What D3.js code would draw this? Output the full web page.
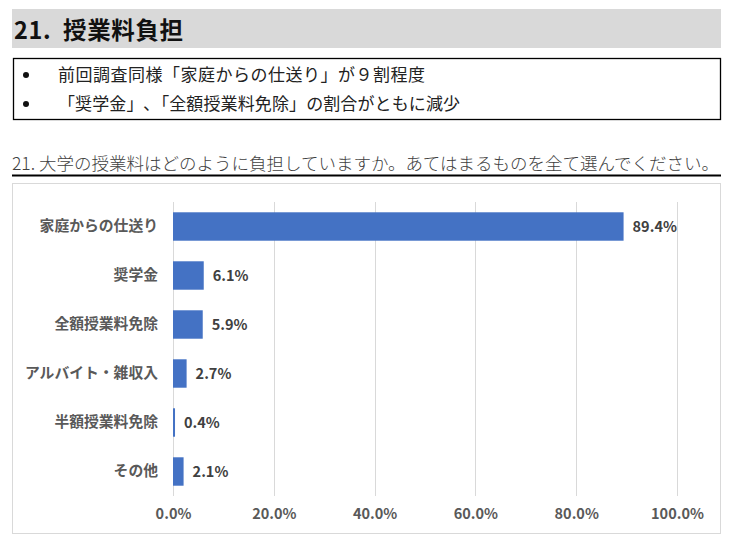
<!DOCTYPE html>
<html>
<head>
<meta charset="utf-8">
<script src="https://cdn.jsdelivr.net/npm/d3@7"></script>
<style>
  html, body { margin: 0; padding: 0; background: #ffffff; }
  svg { display: block; }
</style>
</head>
<body>
<div id="chart"></div>
<script>
const categories = ["家庭からの仕送り", "奨学金", "全額授業料免除", "アルバイト・雑収入", "半額授業料免除", "その他"];
const values = [89.4, 6.1, 5.9, 2.7, 0.4, 2.1];
const tickValues = [0, 20, 40, 60, 80, 100];
const titleText = "21.  授業料負担";
const bullets = ["前回調査同様「家庭からの仕送り」が９割程度", "「奨学金」､「全額授業料免除」の割合がともに減少"];
const questionText = "21. 大学の授業料はどのように負担していますか。あてはまるものを全て選んでください。";

const W = 740, H = 543;
const FONT = "'Noto Sans CJK JP', 'Noto Sans', sans-serif";
const svg = d3.select("#chart").append("svg").attr("width", W).attr("height", H);
svg.append("rect").attr("width", W).attr("height", H).attr("fill", "#fff");

// Header bar
svg.append("rect").attr("x", 12).attr("y", 9).attr("width", 709).attr("height", 39).attr("fill", "#d9d9d9");
svg.append("text").attr("x", 14).attr("y", 39).attr("font-family", FONT).attr("font-weight", 700)
  .attr("font-size", 23.5).attr("fill", "#111").attr("xml:space", "preserve")
  .attr("textLength", 169).attr("lengthAdjust", "spacing").text(titleText);

// Summary box
svg.append("rect").attr("x", 13.5).attr("y", 58.5).attr("width", 707).attr("height", 61)
  .attr("fill", "none").attr("stroke", "#000").attr("stroke-width", 1.3);
const bulletLens = [367, 402];
bullets.forEach((b, i) => {
  const y = 75 + i * 29;
  svg.append("circle").attr("cx", 26).attr("cy", y).attr("r", 3).attr("fill", "#111");
  svg.append("text").attr("x", 58).attr("y", y + 6).attr("font-family", FONT)
    .attr("font-size", 17).attr("fill", "#222")
    .attr("textLength", bulletLens[i]).attr("lengthAdjust", "spacing").text(b);
});

// Question line
svg.append("text").attr("x", 12).attr("y", 170).attr("font-family", FONT).attr("font-weight", 300)
  .attr("font-size", 17.5).attr("fill", "#404040").text(questionText);
svg.append("line").attr("x1", 12).attr("x2", 721).attr("y1", 175.5).attr("y2", 175.5)
  .attr("stroke", "#000").attr("stroke-width", 2);

// Chart frame
svg.append("rect").attr("x", 12.5).attr("y", 183.5).attr("width", 708).attr("height", 350)
  .attr("fill", "#fff").attr("stroke", "#d9d9d9").attr("stroke-width", 1);

const x = d3.scaleLinear().domain([0, 100]).range([173, 677]);
const y = d3.scaleBand().domain(categories).range([202, 496]).paddingInner(0.42).paddingOuter(0.21);

// Gridlines
svg.append("g").selectAll("line").data(tickValues).join("line")
  .attr("x1", d => Math.round(x(d)) + 0.5).attr("x2", d => Math.round(x(d)) + 0.5)
  .attr("y1", 202).attr("y2", 496).attr("stroke", "#d9d9d9").attr("stroke-width", 1);

// X axis labels
const xAxis = d3.axisBottom(x).tickValues(tickValues).tickSize(0).tickPadding(0)
  .tickFormat(d => d.toFixed(1) + "%");
const gx = svg.append("g").attr("transform", "translate(0,509)").call(xAxis);
gx.select(".domain").remove();
gx.selectAll("text").attr("font-family", FONT).attr("font-weight", 700).attr("font-size", 14.5)
  .attr("fill", "#595959").attr("dy", "0.71em");

// Y axis labels
const yAxis = d3.axisLeft(y).tickSize(0).tickPadding(0);
const gy = svg.append("g").attr("transform", "translate(158,0)").call(yAxis);
gy.select(".domain").remove();
gy.selectAll("text").attr("font-family", FONT).attr("font-weight", 700).attr("font-size", 14.8)
  .attr("fill", "#595959");

// Bars
svg.append("g").selectAll("rect").data(values).join("rect")
  .attr("x", x(0)).attr("y", (d, i) => y(categories[i]))
  .attr("width", d => x(d) - x(0)).attr("height", y.bandwidth())
  .attr("fill", "#4472c4");

// Value labels
svg.append("g").selectAll("text").data(values).join("text")
  .attr("x", d => x(d) + 9).attr("y", (d, i) => y(categories[i]) + y.bandwidth() / 2)
  .attr("dy", "0.35em").attr("font-family", FONT).attr("font-weight", 700).attr("font-size", 14.5)
  .attr("fill", "#404040").text(d => d.toFixed(1) + "%");
</script>
</body>
</html>
